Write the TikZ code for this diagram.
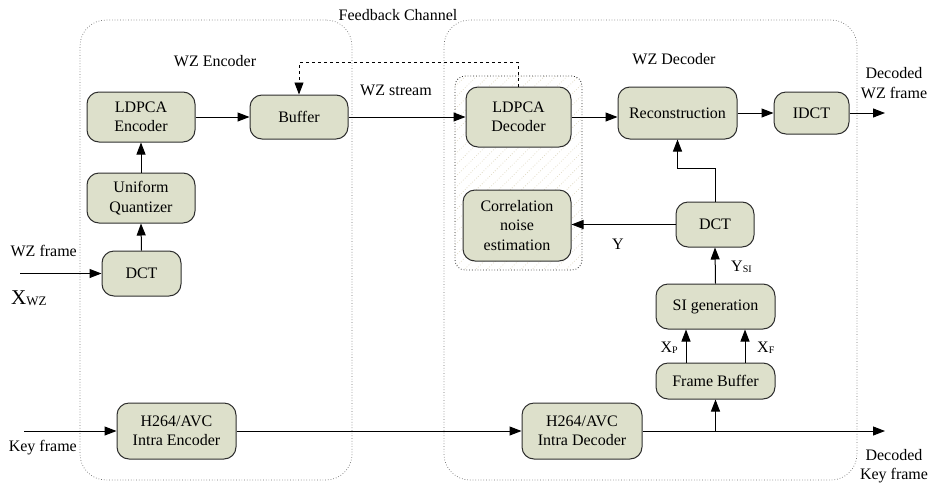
\documentclass[tikz,border=0pt]{standalone}
\usepackage{fontspec}
\setmainfont{Liberation Serif}
\usetikzlibrary{arrows.meta,patterns.meta}
\definecolor{boxfill}{HTML}{DDE0CB}
\definecolor{boxline}{HTML}{2E2E2E}
\definecolor{hatchcol}{HTML}{E2DDC9}
\definecolor{regionline}{HTML}{707070}
\tikzset{
  blk/.style={draw=boxline, fill=boxfill, line width=1pt, rounded corners=12pt,
    align=center, inner sep=2pt, font=\fontsize{16}{19.5}\selectfont},
  region/.style={draw=regionline, dotted, line width=0.7pt, rounded corners=26pt},
  arr/.style={line width=1pt, -{Triangle[length=12pt,width=9pt]}},
  lbl/.style={font=\fontsize{16}{19.5}\selectfont, inner sep=0pt, align=center},
}
\newcommand{\subsc}[1]{\raisebox{-1pt}{\fontsize{10}{10}\selectfont #1}}
\begin{document}
\begin{tikzpicture}[x=1pt,y=-1pt]
\useasboundingbox (0,0) rectangle (934,485);

% dotted regions for encoder and decoder
\node[region, minimum width=272, minimum height=460] (encreg) at (216,250) {};
\node[region, minimum width=413, minimum height=460] (decreg) at (650.5,250) {};

% hatched area holding the LDPCA decoder and the noise estimation
\node[draw=boxline, dotted, line width=0.8pt, rounded corners=10pt,
      pattern={Lines[angle=45,distance=8pt,line width=0.8pt]}, pattern color=hatchcol,
      minimum width=127, minimum height=194] (hatch) at (518.5,173) {};

% titles
\node[lbl] (fbc) at (398,15) {Feedback Channel};
\node[lbl] (enct) at (215,61) {WZ Encoder};
\node[lbl] (dect) at (674,59) {WZ Decoder};

% encoder blocks
\node[blk, minimum width=108, minimum height=50] (ldpce) at (141,117) {LDPCA\\Encoder};
\node[blk, minimum width=98, minimum height=44] (buf) at (299,117) {Buffer};
\node[blk, minimum width=108, minimum height=50] (uq) at (141,198) {Uniform\\Quantizer};
\node[blk, minimum width=79, minimum height=45] (dcte) at (141.5,273.5) {DCT};
\node[blk, minimum width=119, minimum height=56] (h264e) at (176.5,431) {H264/AVC\\Intra Encoder};

% decoder blocks
\node[blk, minimum width=105, minimum height=60] (ldpcd) at (518.5,117) {LDPCA\\Decoder};
\node[blk, minimum width=108, minimum height=71] (cne) at (517,225.5) {Correlation\\noise\\estimation};
\node[blk, minimum width=119, minimum height=52] (recon) at (677.5,113) {Reconstruction};
\node[blk, minimum width=75, minimum height=42] (idct) at (811.5,113) {IDCT};
\node[blk, minimum width=78, minimum height=45] (dctd) at (715,224.5) {DCT};
\node[blk, minimum width=119, minimum height=45] (sig) at (715.5,306.5) {SI generation};
\node[blk, minimum width=119, minimum height=36] (fb) at (715.5,381) {Frame Buffer};
\node[blk, minimum width=120, minimum height=56] (h264d) at (582,431) {H264/AVC\\Intra Decoder};

% free ends
\coordinate (wzin) at (20,273.5);
\coordinate (keyin) at (24,431);
\coordinate (wzout) at (885,113);
\coordinate (keyout) at (885,431);
\coordinate (branch) at (fb.south |- h264d.east);

% encoder connectors
\draw[arr] (wzin) -- (dcte.west);
\draw[arr] (dcte.north) -- (uq.south);
\draw[arr] (uq.north) -- (ldpce.south);
\draw[arr] (ldpce.east) -- (buf.west);
\draw[arr] (keyin) -- (h264e.west);

% channel
\draw[arr] (buf.east) -- (ldpcd.west);
\draw[arr] (h264e.east) -- (h264d.west);
\draw[arr, dashed, line width=0.9pt] (ldpcd.north) -- ++(0,-24) -| (buf.north);

% decoder connectors
\draw[arr] (ldpcd.east) -- (ldpcd.east -| recon.west);
\draw[arr] (recon.east) -- (idct.west);
\draw[arr] (idct.east) -- (wzout);
\draw[arr] (dctd.north) -- ++(0,-33) -| (recon.south);
\draw[arr] (dctd.west) -- (dctd.west -| cne.east);
\draw[arr] (sig.north) -- (dctd.south);
\draw[arr] ([xshift=-29.5]fb.north) -- ([xshift=-29.5]sig.south);
\draw[arr] ([xshift=29.5]fb.north) -- ([xshift=29.5]sig.south);
\draw[arr] (h264d.east) -- (keyout);
\draw[arr] (branch) -- (fb.south);

% labels
\node[lbl, anchor=east] (wzfl) at (77,251) {WZ frame};
\node[lbl, anchor=west] (xwz) at (11,298) {{\fontsize{21}{21}\selectfont X}\raisebox{-1pt}{\fontsize{13}{13}\selectfont WZ}};
\node[lbl, anchor=east] (keyl) at (77,448) {Key frame};
\node[lbl] (wzs) at (396,90) {WZ stream};
\node[lbl] (dwz) at (894,83) {Decoded\\WZ frame};
\node[lbl] (dkey) at (894,466) {Decoded\\Key frame};
\node[lbl] (yl) at (618,244) {Y};
\node[lbl, anchor=west] (ysi) at (731,267) {Y\subsc{SI}};
\node[lbl, anchor=east] (xp) at (678,348) {X\subsc{P}};
\node[lbl, anchor=west] (xf) at (757,348) {X\subsc{F}};
\end{tikzpicture}
\end{document}
